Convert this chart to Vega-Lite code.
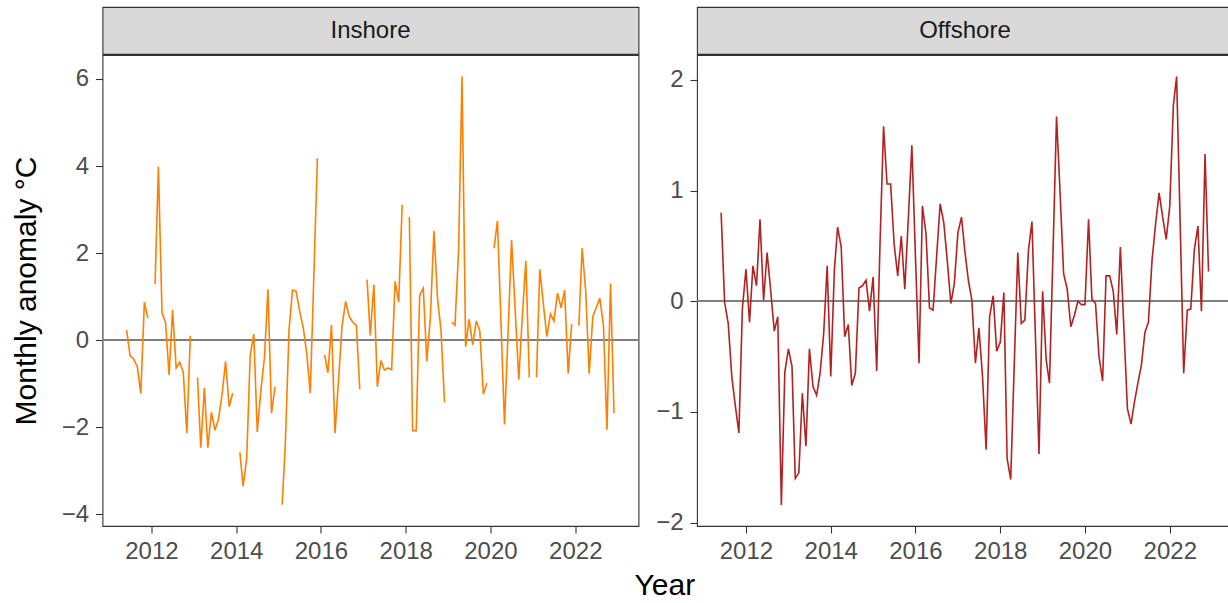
{
  "$schema": "https://vega.github.io/schema/vega-lite/v6.json",
  "padding": {"left": 10.5, "top": 6, "right": 0, "bottom": 0},
  "background": "white",
  "config": {
    "font": "Liberation Sans",
    "view": {"stroke": "#333333", "strokeWidth": 1.1},
    "axis": {"grid": false, "domain": false, "tickColor": "#333333", "tickSize": 7, "tickWidth": 1.1, "labelColor": "#4D4D4D", "labelFontSize": 24, "labelFont": "Liberation Sans", "titleFont": "Liberation Sans", "titleFontSize": 30, "titleFontWeight": "normal", "titleColor": "black", "labelPadding": 7},
    "axisX": {"labelPadding": 6}
  },
  "data": {"values": [
    {"date": "2011-06-01", "Inshore": 0.23, "Offshore": 0.80},
    {"date": "2011-07-01", "Inshore": -0.36, "Offshore": -0.01},
    {"date": "2011-08-01", "Inshore": -0.44, "Offshore": -0.20},
    {"date": "2011-09-01", "Inshore": -0.61, "Offshore": -0.68},
    {"date": "2011-10-01", "Inshore": -1.23, "Offshore": -0.94},
    {"date": "2011-11-01", "Inshore": 0.87, "Offshore": -1.19},
    {"date": "2011-12-01", "Inshore": 0.50, "Offshore": -0.07},
    {"date": "2012-01-01", "Inshore": null, "Offshore": 0.29},
    {"date": "2012-02-01", "Inshore": 1.29, "Offshore": -0.19},
    {"date": "2012-03-01", "Inshore": 3.98, "Offshore": 0.32},
    {"date": "2012-04-01", "Inshore": 0.62, "Offshore": 0.14},
    {"date": "2012-05-01", "Inshore": 0.41, "Offshore": 0.74},
    {"date": "2012-06-01", "Inshore": -0.80, "Offshore": 0.01},
    {"date": "2012-07-01", "Inshore": 0.69, "Offshore": 0.44},
    {"date": "2012-08-01", "Inshore": -0.64, "Offshore": 0.10},
    {"date": "2012-09-01", "Inshore": -0.51, "Offshore": -0.27},
    {"date": "2012-10-01", "Inshore": -0.74, "Offshore": -0.14},
    {"date": "2012-11-01", "Inshore": -2.14, "Offshore": -1.84},
    {"date": "2012-12-01", "Inshore": 0.10, "Offshore": -0.64},
    {"date": "2013-01-01", "Inshore": null, "Offshore": -0.43},
    {"date": "2013-02-01", "Inshore": -0.86, "Offshore": -0.59},
    {"date": "2013-03-01", "Inshore": -2.47, "Offshore": -1.60},
    {"date": "2013-04-01", "Inshore": -1.10, "Offshore": -1.55},
    {"date": "2013-05-01", "Inshore": -2.47, "Offshore": -0.83},
    {"date": "2013-06-01", "Inshore": -1.66, "Offshore": -1.31},
    {"date": "2013-07-01", "Inshore": -2.07, "Offshore": -0.43},
    {"date": "2013-08-01", "Inshore": -1.81, "Offshore": -0.77},
    {"date": "2013-09-01", "Inshore": -1.24, "Offshore": -0.85},
    {"date": "2013-10-01", "Inshore": -0.49, "Offshore": -0.65},
    {"date": "2013-11-01", "Inshore": -1.53, "Offshore": -0.29},
    {"date": "2013-12-01", "Inshore": -1.22, "Offshore": 0.32},
    {"date": "2014-01-01", "Inshore": null, "Offshore": -0.68},
    {"date": "2014-02-01", "Inshore": -2.58, "Offshore": 0.28},
    {"date": "2014-03-01", "Inshore": -3.36, "Offshore": 0.67},
    {"date": "2014-04-01", "Inshore": -2.71, "Offshore": 0.49},
    {"date": "2014-05-01", "Inshore": -0.36, "Offshore": -0.32},
    {"date": "2014-06-01", "Inshore": 0.14, "Offshore": -0.21},
    {"date": "2014-07-01", "Inshore": -2.11, "Offshore": -0.76},
    {"date": "2014-08-01", "Inshore": -1.16, "Offshore": -0.65},
    {"date": "2014-09-01", "Inshore": -0.40, "Offshore": 0.12},
    {"date": "2014-10-01", "Inshore": 1.17, "Offshore": 0.14},
    {"date": "2014-11-01", "Inshore": -1.68, "Offshore": 0.19},
    {"date": "2014-12-01", "Inshore": -1.07, "Offshore": -0.09},
    {"date": "2015-01-01", "Inshore": null, "Offshore": 0.22},
    {"date": "2015-02-01", "Inshore": -3.78, "Offshore": -0.63},
    {"date": "2015-03-01", "Inshore": -2.31, "Offshore": 0.50},
    {"date": "2015-04-01", "Inshore": 0.25, "Offshore": 1.58},
    {"date": "2015-05-01", "Inshore": 1.15, "Offshore": 1.06},
    {"date": "2015-06-01", "Inshore": 1.12, "Offshore": 1.06},
    {"date": "2015-07-01", "Inshore": 0.67, "Offshore": 0.52},
    {"date": "2015-08-01", "Inshore": 0.29, "Offshore": 0.23},
    {"date": "2015-09-01", "Inshore": -0.32, "Offshore": 0.59},
    {"date": "2015-10-01", "Inshore": -1.22, "Offshore": 0.11},
    {"date": "2015-11-01", "Inshore": 1.50, "Offshore": 0.76},
    {"date": "2015-12-01", "Inshore": 4.18, "Offshore": 1.41},
    {"date": "2016-01-01", "Inshore": null, "Offshore": 0.40},
    {"date": "2016-02-01", "Inshore": -0.34, "Offshore": -0.56},
    {"date": "2016-03-01", "Inshore": -0.75, "Offshore": 0.86},
    {"date": "2016-04-01", "Inshore": 0.35, "Offshore": 0.61},
    {"date": "2016-05-01", "Inshore": -2.14, "Offshore": -0.06},
    {"date": "2016-06-01", "Inshore": -0.90, "Offshore": -0.08},
    {"date": "2016-07-01", "Inshore": 0.33, "Offshore": 0.40},
    {"date": "2016-08-01", "Inshore": 0.89, "Offshore": 0.88},
    {"date": "2016-09-01", "Inshore": 0.54, "Offshore": 0.71},
    {"date": "2016-10-01", "Inshore": 0.41, "Offshore": 0.37},
    {"date": "2016-11-01", "Inshore": 0.34, "Offshore": -0.02},
    {"date": "2016-12-01", "Inshore": -1.13, "Offshore": 0.16},
    {"date": "2017-01-01", "Inshore": null, "Offshore": 0.62},
    {"date": "2017-02-01", "Inshore": 1.39, "Offshore": 0.76},
    {"date": "2017-03-01", "Inshore": 0.11, "Offshore": 0.46},
    {"date": "2017-04-01", "Inshore": 1.27, "Offshore": 0.19},
    {"date": "2017-05-01", "Inshore": -1.07, "Offshore": 0.01},
    {"date": "2017-06-01", "Inshore": -0.47, "Offshore": -0.56},
    {"date": "2017-07-01", "Inshore": -0.69, "Offshore": -0.24},
    {"date": "2017-08-01", "Inshore": -0.64, "Offshore": -0.68},
    {"date": "2017-09-01", "Inshore": -0.68, "Offshore": -1.34},
    {"date": "2017-10-01", "Inshore": 1.35, "Offshore": -0.14},
    {"date": "2017-11-01", "Inshore": 0.87, "Offshore": 0.05},
    {"date": "2017-12-01", "Inshore": 3.11, "Offshore": -0.45},
    {"date": "2018-01-01", "Inshore": null, "Offshore": -0.37},
    {"date": "2018-02-01", "Inshore": 2.83, "Offshore": 0.08},
    {"date": "2018-03-01", "Inshore": -2.08, "Offshore": -1.42},
    {"date": "2018-04-01", "Inshore": -2.08, "Offshore": -1.61},
    {"date": "2018-05-01", "Inshore": 1.03, "Offshore": -0.59},
    {"date": "2018-06-01", "Inshore": 1.19, "Offshore": 0.44},
    {"date": "2018-07-01", "Inshore": -0.49, "Offshore": -0.20},
    {"date": "2018-08-01", "Inshore": 0.52, "Offshore": -0.17},
    {"date": "2018-09-01", "Inshore": 2.51, "Offshore": 0.46},
    {"date": "2018-10-01", "Inshore": 0.98, "Offshore": 0.72},
    {"date": "2018-11-01", "Inshore": 0.21, "Offshore": -0.35},
    {"date": "2018-12-01", "Inshore": -1.43, "Offshore": -1.38},
    {"date": "2019-01-01", "Inshore": null, "Offshore": 0.09},
    {"date": "2019-02-01", "Inshore": 0.41, "Offshore": -0.53},
    {"date": "2019-03-01", "Inshore": 0.34, "Offshore": -0.74},
    {"date": "2019-04-01", "Inshore": 2.05, "Offshore": 0.46},
    {"date": "2019-05-01", "Inshore": 6.06, "Offshore": 1.67},
    {"date": "2019-06-01", "Inshore": -0.15, "Offshore": 0.97},
    {"date": "2019-07-01", "Inshore": 0.48, "Offshore": 0.25},
    {"date": "2019-08-01", "Inshore": -0.11, "Offshore": 0.11},
    {"date": "2019-09-01", "Inshore": 0.44, "Offshore": -0.23},
    {"date": "2019-10-01", "Inshore": 0.21, "Offshore": -0.13},
    {"date": "2019-11-01", "Inshore": -1.24, "Offshore": 0.00},
    {"date": "2019-12-01", "Inshore": -0.99, "Offshore": -0.03},
    {"date": "2020-01-01", "Inshore": null, "Offshore": -0.03},
    {"date": "2020-02-01", "Inshore": 2.11, "Offshore": 0.74},
    {"date": "2020-03-01", "Inshore": 2.74, "Offshore": 0.02},
    {"date": "2020-04-01", "Inshore": 0.40, "Offshore": -0.02},
    {"date": "2020-05-01", "Inshore": -1.94, "Offshore": -0.50},
    {"date": "2020-06-01", "Inshore": 0.18, "Offshore": -0.72},
    {"date": "2020-07-01", "Inshore": 2.30, "Offshore": 0.23},
    {"date": "2020-08-01", "Inshore": 0.70, "Offshore": 0.23},
    {"date": "2020-09-01", "Inshore": -0.91, "Offshore": 0.09},
    {"date": "2020-10-01", "Inshore": 0.52, "Offshore": -0.30},
    {"date": "2020-11-01", "Inshore": 1.82, "Offshore": 0.49},
    {"date": "2020-12-01", "Inshore": -0.86, "Offshore": -0.23},
    {"date": "2021-01-01", "Inshore": null, "Offshore": -0.97},
    {"date": "2021-02-01", "Inshore": -0.86, "Offshore": -1.11},
    {"date": "2021-03-01", "Inshore": 1.63, "Offshore": -0.92},
    {"date": "2021-04-01", "Inshore": 0.83, "Offshore": -0.74},
    {"date": "2021-05-01", "Inshore": 0.08, "Offshore": -0.58},
    {"date": "2021-06-01", "Inshore": 0.60, "Offshore": -0.28},
    {"date": "2021-07-01", "Inshore": 0.44, "Offshore": -0.19},
    {"date": "2021-08-01", "Inshore": 1.08, "Offshore": 0.37},
    {"date": "2021-09-01", "Inshore": 0.74, "Offshore": 0.70},
    {"date": "2021-10-01", "Inshore": 1.15, "Offshore": 0.98},
    {"date": "2021-11-01", "Inshore": -0.77, "Offshore": 0.76},
    {"date": "2021-12-01", "Inshore": 0.37, "Offshore": 0.56},
    {"date": "2022-01-01", "Inshore": null, "Offshore": 0.86},
    {"date": "2022-02-01", "Inshore": 0.33, "Offshore": 1.77},
    {"date": "2022-03-01", "Inshore": 2.11, "Offshore": 2.03},
    {"date": "2022-04-01", "Inshore": 1.13, "Offshore": 0.69},
    {"date": "2022-05-01", "Inshore": -0.77, "Offshore": -0.65},
    {"date": "2022-06-01", "Inshore": 0.54, "Offshore": -0.08},
    {"date": "2022-07-01", "Inshore": 0.75, "Offshore": -0.07},
    {"date": "2022-08-01", "Inshore": 0.96, "Offshore": 0.47},
    {"date": "2022-09-01", "Inshore": 0.33, "Offshore": 0.68},
    {"date": "2022-10-01", "Inshore": -2.06, "Offshore": -0.09},
    {"date": "2022-11-01", "Inshore": 1.30, "Offshore": 1.33},
    {"date": "2022-12-01", "Inshore": -1.68, "Offshore": 0.27}
  ]},
  "transform": [{"fold": ["Inshore", "Offshore"], "as": ["site", "anomaly"]}],
  "title": {"text": "Year", "orient": "bottom", "anchor": "middle", "fontSize": 30, "fontWeight": "normal", "color": "black", "font": "Liberation Sans", "offset": 7, "dx": 42.5},
  "spacing": 14.5,
  "hconcat": [
    {
      "spacing": -1,
      "vconcat": [
        {
          "width": 536, "height": 47,
          "view": {"fill": "#D9D9D9", "stroke": "#333333", "strokeWidth": 1.1},
          "transform": [{"filter": "datum.site === 'Inshore'"}, {"aggregate": [{"op": "count", "as": "n"}], "groupby": ["site"]}],
          "mark": {"type": "text", "fontSize": 24, "color": "#1A1A1A", "baseline": "middle", "align": "center", "font": "Liberation Sans"},
          "encoding": {"text": {"field": "site", "type": "nominal"}}
        },
        {
          "width": 536, "height": 471,
          "transform": [{"filter": "datum.site === 'Inshore'"}],
          "layer": [
            {
              "mark": {"type": "rule", "color": "#7F7F7F", "strokeWidth": 1.1},
              "encoding": {"y": {"datum": 0, "type": "quantitative", "title": "Monthly anomaly °C"}}
            },
            {
              "mark": {"type": "line", "color": "#FF7F00", "strokeWidth": 1.6, "invalid": "break-paths-filter-domains"},
              "encoding": {
                "x": {"field": "date", "type": "temporal",
                      "scale": {"type": "utc", "domain": [{"year": 2010, "month": 11, "date": 5, "utc": true}, {"year": 2023, "month": 6, "date": 30, "utc": true}]},
                      "axis": {"title": null, "format": "%Y", "formatType": "utc", "values": [{"year": 2012, "utc": true}, {"year": 2014, "utc": true}, {"year": 2016, "utc": true}, {"year": 2018, "utc": true}, {"year": 2020, "utc": true}, {"year": 2022, "utc": true}]}},
                "y": {"field": "anomaly", "type": "quantitative", "title": "Monthly anomaly °C",
                      "scale": {"domain": [-4.27, 6.55], "nice": false, "zero": false},
                      "axis": {"values": [-4, -2, 0, 2, 4, 6], "format": "d", "titlePadding": 20}}
              }
            }
          ]
        }
      ]
    },
    {
      "spacing": -1,
      "vconcat": [
        {
          "width": 536, "height": 47,
          "view": {"fill": "#D9D9D9", "stroke": "#333333", "strokeWidth": 1.1},
          "transform": [{"filter": "datum.site === 'Offshore'"}, {"aggregate": [{"op": "count", "as": "n"}], "groupby": ["site"]}],
          "mark": {"type": "text", "fontSize": 24, "color": "#1A1A1A", "baseline": "middle", "align": "center", "font": "Liberation Sans"},
          "encoding": {"text": {"field": "site", "type": "nominal"}}
        },
        {
          "width": 536, "height": 471,
          "transform": [{"filter": "datum.site === 'Offshore'"}],
          "layer": [
            {
              "mark": {"type": "rule", "color": "#7F7F7F", "strokeWidth": 1.1},
              "encoding": {"y": {"datum": 0, "type": "quantitative", "title": null}}
            },
            {
              "mark": {"type": "line", "color": "#B22222", "strokeWidth": 1.6},
              "encoding": {
                "x": {"field": "date", "type": "temporal",
                      "scale": {"type": "utc", "domain": [{"year": 2010, "month": 11, "date": 5, "utc": true}, {"year": 2023, "month": 6, "date": 30, "utc": true}]},
                      "axis": {"title": null, "format": "%Y", "formatType": "utc", "values": [{"year": 2012, "utc": true}, {"year": 2014, "utc": true}, {"year": 2016, "utc": true}, {"year": 2018, "utc": true}, {"year": 2020, "utc": true}, {"year": 2022, "utc": true}]}},
                "y": {"field": "anomaly", "type": "quantitative", "title": null,
                      "scale": {"domain": [-2.03, 2.225], "nice": false, "zero": false},
                      "axis": {"values": [-2, -1, 0, 1, 2], "format": "d"}}
              }
            }
          ]
        }
      ]
    }
  ]
}
